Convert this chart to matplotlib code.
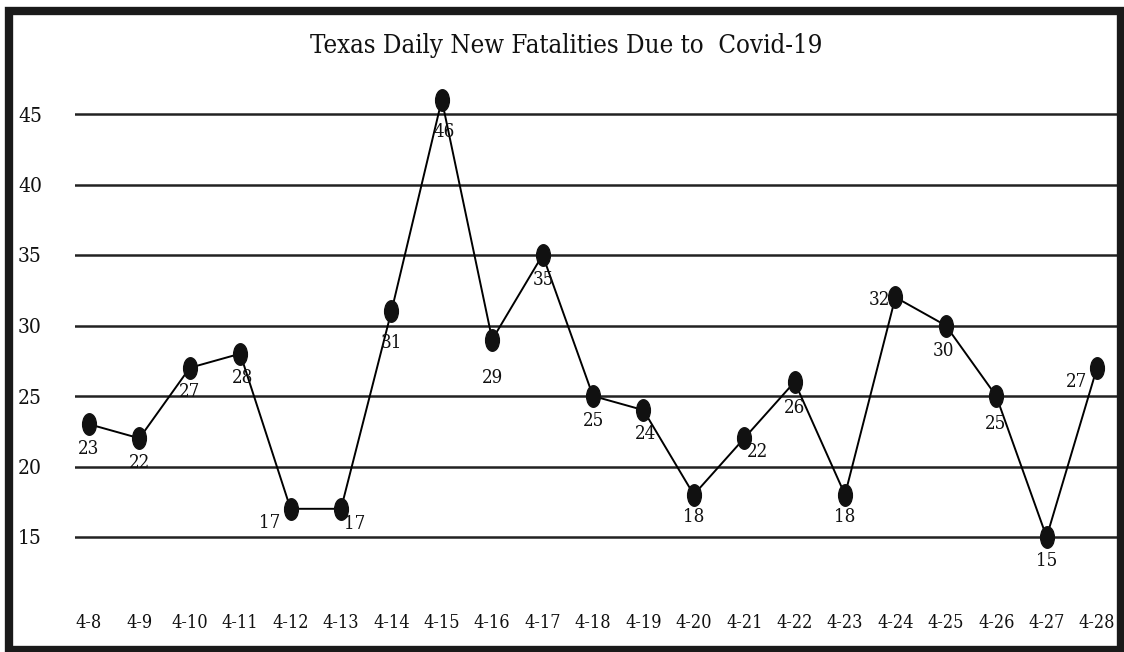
import numpy as np
import matplotlib.pyplot as plt
from matplotlib.path import Path
from matplotlib.patches import Rectangle

# data
dates = ['4-8', '4-9', '4-10', '4-11', '4-12', '4-13', '4-14', '4-15', '4-16', '4-17',
         '4-18', '4-19', '4-20', '4-21', '4-22', '4-23', '4-24', '4-25', '4-26', '4-27', '4-28']
deaths = [23, 22, 27, 28, 17, 17, 31, 46, 29, 35, 25, 24, 18, 22, 26, 18, 32, 30, 25, 15, 27]
y_ticks = [15, 20, 25, 30, 35, 40, 45]

# label offsets (pixels) relative to each point
label_off = [(0, -25), (0, -25), (0, -24), (2, -24), (-21, -14), (14, -15), (0, -32),
             (2, -32), (0, -38), (1, -25), (1, -25), (2, -24), (0, -22), (13, -14),
             (0, -26), (0, -22), (-16, -3), (-2, -26), (-1, -28), (0, -24), (-20, -14)]

plt.rcParams['font.family'] = ['DejaVu Serif Condensed', 'DejaVu Serif']
plt.rcParams['font.stretch'] = 'condensed'

W, H = 1124, 652
fig = plt.figure(figsize=(W / 100, H / 100), dpi=100)

# axes placed in pixel terms
ax_left, ax_right, ax_top, ax_bot = 75, 1117, 60, 600
ax = fig.add_axes([ax_left / W, 1 - ax_bot / H, (ax_right - ax_left) / W, (ax_bot - ax_top) / H])

ppu = (537 - 114) / 30.0
ax.set_ylim(15 - (ax_bot - 537) / ppu, 45 + (114 - ax_top) / ppu)
dx = (1097 - 89) / 20.0
ax.set_xlim(-(89 - ax_left) / dx, (ax_right - 89) / dx)

for v in y_ticks:
    ax.axhline(v, color='#222222', lw=1.8, zorder=1)

x = np.arange(len(dates))
circ = Path.unit_circle()
ell = Path(circ.vertices * np.array([0.64, 1.0]), circ.codes)
ax.plot(x, deaths, color='black', lw=1.4, zorder=2, clip_on=False)
ax.plot(x, deaths, ls='none', marker=ell, ms=15.5, color='#111111', zorder=3, clip_on=False)

for xi, yi, (ox, oy) in zip(x, deaths, label_off):
    ax.annotate(str(yi), (xi, yi), xytext=(ox, oy), textcoords='offset pixels',
                ha='center', va='center', fontsize=13.5, color='#111111')

ax.set_xticks(x)
ax.set_xticklabels(dates, fontsize=13)
ax.set_yticks(y_ticks)
ax.set_yticklabels([str(v) for v in y_ticks], fontsize=15, ha='left')
ax.tick_params(axis='both', length=0, colors='#111111')
ax.tick_params(axis='x', pad=10)
ax.tick_params(axis='y', pad=41)
for s in ax.spines.values():
    s.set_visible(False)
ax.patch.set_alpha(0)

fig.text(566 / W, 1 - 46 / H, 'Texas Daily New Fatalities Due to  Covid-19',
         ha='center', va='center', fontsize=18.5, color='#111111')

# thick frame around the figure
frame = Rectangle((9 / W, 1 - 649.5 / H), 1111.5 / W, 639 / H, transform=fig.transFigure,
                  fill=False, ec='#1a1a1a', lw=6, zorder=10)
fig.patches.append(frame)

fig.savefig('out.png', dpi=100)
